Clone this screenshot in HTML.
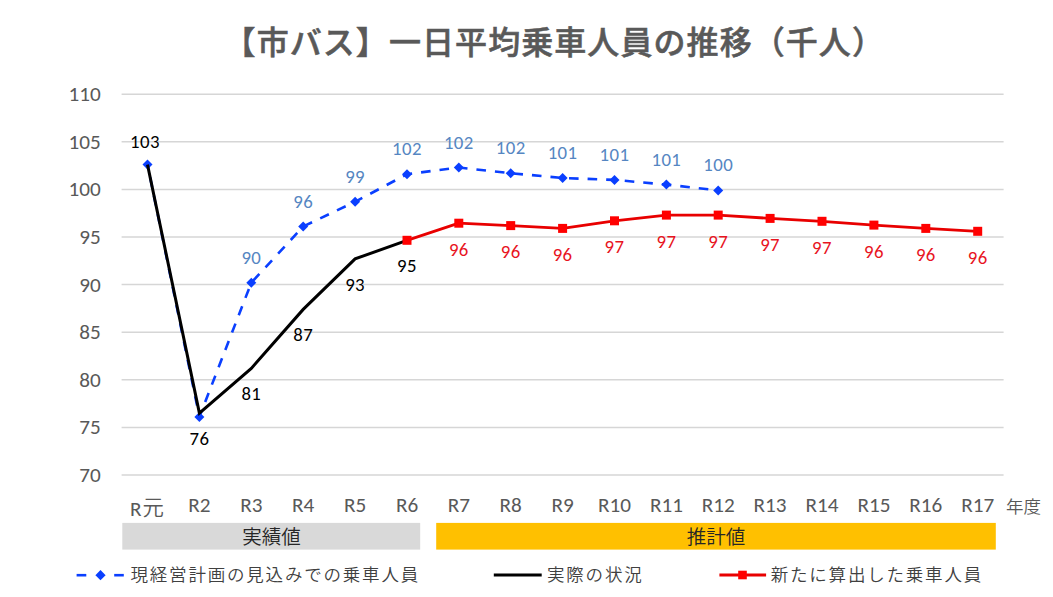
<!DOCTYPE html>
<html lang="ja"><head><meta charset="utf-8"><title>市バス 一日平均乗車人員の推移</title>
<style>
html,body{margin:0;padding:0;background:#fff;}
body{width:1053px;height:597px;overflow:hidden;}
svg{display:block;}
.ax{font-family:Carlito, 'Liberation Sans', 'Noto Sans CJK JP', sans-serif;font-size:21.2px;fill:#595959;}
.cj{font-family:'Liberation Sans', 'Noto Sans CJK JP', sans-serif;font-size:21.4px;font-weight:350;}
.axj{font-family:'Liberation Sans', 'Noto Sans CJK JP', sans-serif;font-size:17.5px;font-weight:350;fill:#595959;}
.dl{font-family:Carlito, 'Liberation Sans', 'Noto Sans CJK JP', sans-serif;font-size:18.8px;letter-spacing:0.4px;}
.bar{font-family:'Liberation Sans', 'Noto Sans CJK JP', sans-serif;font-size:19.5px;font-weight:350;fill:#262626;}
.lg{font-family:'Liberation Sans', 'Noto Sans CJK JP', sans-serif;font-size:17.5px;letter-spacing:1.8px;font-weight:350;fill:#404040;}
.ti{font-family:'Liberation Sans', 'Noto Sans CJK JP', sans-serif;font-size:32px;letter-spacing:1.07px;font-weight:500;fill:#595959;stroke:#595959;stroke-width:0.55px;}
</style></head>
<body><svg width="1053" height="597" viewBox="0 0 1053 597">
<rect width="1053" height="597" fill="#fff"/>
<line x1="121.6" y1="94.2" x2="1003.6" y2="94.2" stroke="#D6D6D6" stroke-width="1.5"/>
<line x1="121.6" y1="141.8" x2="1003.6" y2="141.8" stroke="#D6D6D6" stroke-width="1.5"/>
<line x1="121.6" y1="189.4" x2="1003.6" y2="189.4" stroke="#D6D6D6" stroke-width="1.5"/>
<line x1="121.6" y1="237.0" x2="1003.6" y2="237.0" stroke="#D6D6D6" stroke-width="1.5"/>
<line x1="121.6" y1="284.6" x2="1003.6" y2="284.6" stroke="#D6D6D6" stroke-width="1.5"/>
<line x1="121.6" y1="332.2" x2="1003.6" y2="332.2" stroke="#D6D6D6" stroke-width="1.5"/>
<line x1="121.6" y1="379.8" x2="1003.6" y2="379.8" stroke="#D6D6D6" stroke-width="1.5"/>
<line x1="121.6" y1="427.4" x2="1003.6" y2="427.4" stroke="#D6D6D6" stroke-width="1.5"/>
<line x1="121.6" y1="475.0" x2="1003.6" y2="475.0" stroke="#D6D6D6" stroke-width="1.5"/>
<text x="100.8" y="101.2" text-anchor="end" class="ax">110</text>
<text x="100.8" y="148.8" text-anchor="end" class="ax">105</text>
<text x="100.8" y="196.4" text-anchor="end" class="ax">100</text>
<text x="100.8" y="244.0" text-anchor="end" class="ax">95</text>
<text x="100.8" y="291.6" text-anchor="end" class="ax">90</text>
<text x="100.8" y="339.2" text-anchor="end" class="ax">85</text>
<text x="100.8" y="386.8" text-anchor="end" class="ax">80</text>
<text x="100.8" y="434.4" text-anchor="end" class="ax">75</text>
<text x="100.8" y="482.0" text-anchor="end" class="ax">70</text>
<text x="147.0" y="516" text-anchor="middle" class="ax">R<tspan class="cj" dx="1" dy="-0.8">元</tspan></text>
<text x="199.4" y="511.8" text-anchor="middle" class="ax">R2</text>
<text x="251.3" y="511.8" text-anchor="middle" class="ax">R3</text>
<text x="303.2" y="511.8" text-anchor="middle" class="ax">R4</text>
<text x="355.1" y="511.8" text-anchor="middle" class="ax">R5</text>
<text x="407.0" y="511.8" text-anchor="middle" class="ax">R6</text>
<text x="458.8" y="511.8" text-anchor="middle" class="ax">R7</text>
<text x="510.7" y="511.8" text-anchor="middle" class="ax">R8</text>
<text x="562.6" y="511.8" text-anchor="middle" class="ax">R9</text>
<text x="614.5" y="511.8" text-anchor="middle" class="ax">R10</text>
<text x="666.4" y="511.8" text-anchor="middle" class="ax">R11</text>
<text x="718.2" y="511.8" text-anchor="middle" class="ax">R12</text>
<text x="770.1" y="511.8" text-anchor="middle" class="ax">R13</text>
<text x="822.0" y="511.8" text-anchor="middle" class="ax">R14</text>
<text x="873.9" y="511.8" text-anchor="middle" class="ax">R15</text>
<text x="925.8" y="511.8" text-anchor="middle" class="ax">R16</text>
<text x="977.7" y="511.8" text-anchor="middle" class="ax">R17</text>
<text x="1006" y="513" class="axj">年度</text>
<rect x="122.3" y="522.9" width="297.9" height="26.7" fill="#D9D9D9"/>
<rect x="436.2" y="522.9" width="559.6" height="26.7" fill="#FFC000"/>
<text x="271.4" y="543.5" text-anchor="middle" class="bar">実績値</text>
<text x="716" y="543.5" text-anchor="middle" class="bar">推計値</text>
<polyline points="147.5,164.6 199.4,416.9 251.3,282.7 303.2,226.5 355.1,201.8 407.0,174.2 458.8,167.5 510.7,173.2 562.6,178.0 614.5,179.9 666.4,184.6 718.2,190.4" fill="none" stroke="#0A3FFF" stroke-width="2.6" stroke-dasharray="9.6 9.0" stroke-dashoffset="5.40" stroke-linejoin="round"/>
<path d="M147.5 159.6L152.5 164.6L147.5 169.6L142.5 164.6Z" fill="#0A3FFF"/>
<path d="M199.4 411.9L204.4 416.9L199.4 421.9L194.4 416.9Z" fill="#0A3FFF"/>
<path d="M251.3 277.7L256.3 282.7L251.3 287.7L246.3 282.7Z" fill="#0A3FFF"/>
<path d="M303.2 221.5L308.2 226.5L303.2 231.5L298.2 226.5Z" fill="#0A3FFF"/>
<path d="M355.1 196.8L360.1 201.8L355.1 206.8L350.1 201.8Z" fill="#0A3FFF"/>
<path d="M407.0 169.2L412.0 174.2L407.0 179.2L402.0 174.2Z" fill="#0A3FFF"/>
<path d="M458.8 162.5L463.8 167.5L458.8 172.5L453.8 167.5Z" fill="#0A3FFF"/>
<path d="M510.7 168.2L515.7 173.2L510.7 178.2L505.7 173.2Z" fill="#0A3FFF"/>
<path d="M562.6 173.0L567.6 178.0L562.6 183.0L557.6 178.0Z" fill="#0A3FFF"/>
<path d="M614.5 174.9L619.5 179.9L614.5 184.9L609.5 179.9Z" fill="#0A3FFF"/>
<path d="M666.4 179.6L671.4 184.6L666.4 189.6L661.4 184.6Z" fill="#0A3FFF"/>
<path d="M718.2 185.4L723.2 190.4L718.2 195.4L713.2 190.4Z" fill="#0A3FFF"/>
<polyline points="147.5,164.6 199.4,413.1 251.3,368.4 303.2,309.4 355.1,258.9 407.0,240.3" fill="none" stroke="#000" stroke-width="3" stroke-linejoin="miter"/>
<polyline points="407.0,240.3 458.8,223.2 510.7,225.6 562.6,228.4 614.5,220.8 666.4,215.1 718.2,215.1 770.1,218.4 822.0,221.3 873.9,225.1 925.8,228.4 977.7,231.3" fill="none" stroke="#E80000" stroke-width="2.8" stroke-linejoin="round"/>
<rect x="402.5" y="235.8" width="9" height="9" fill="#FF0000"/>
<rect x="454.3" y="218.7" width="9" height="9" fill="#FF0000"/>
<rect x="506.2" y="221.1" width="9" height="9" fill="#FF0000"/>
<rect x="558.1" y="223.9" width="9" height="9" fill="#FF0000"/>
<rect x="610.0" y="216.3" width="9" height="9" fill="#FF0000"/>
<rect x="661.9" y="210.6" width="9" height="9" fill="#FF0000"/>
<rect x="713.7" y="210.6" width="9" height="9" fill="#FF0000"/>
<rect x="765.6" y="213.9" width="9" height="9" fill="#FF0000"/>
<rect x="817.5" y="216.8" width="9" height="9" fill="#FF0000"/>
<rect x="869.4" y="220.6" width="9" height="9" fill="#FF0000"/>
<rect x="921.3" y="223.9" width="9" height="9" fill="#FF0000"/>
<rect x="973.2" y="226.8" width="9" height="9" fill="#FF0000"/>
<text x="251.3" y="263.7" text-anchor="middle" class="dl" fill="#5586C2">90</text>
<text x="303.2" y="207.5" text-anchor="middle" class="dl" fill="#5586C2">96</text>
<text x="355.1" y="182.8" text-anchor="middle" class="dl" fill="#5586C2">99</text>
<text x="407.0" y="155.2" text-anchor="middle" class="dl" fill="#5586C2">102</text>
<text x="458.8" y="148.5" text-anchor="middle" class="dl" fill="#5586C2">102</text>
<text x="510.7" y="154.2" text-anchor="middle" class="dl" fill="#5586C2">102</text>
<text x="562.6" y="159.0" text-anchor="middle" class="dl" fill="#5586C2">101</text>
<text x="614.5" y="160.9" text-anchor="middle" class="dl" fill="#5586C2">101</text>
<text x="666.4" y="165.6" text-anchor="middle" class="dl" fill="#5586C2">101</text>
<text x="718.2" y="171.4" text-anchor="middle" class="dl" fill="#5586C2">100</text>
<text x="199.4" y="444.9" text-anchor="middle" class="dl" fill="#000">76</text>
<text x="251.3" y="400.2" text-anchor="middle" class="dl" fill="#000">81</text>
<text x="303.2" y="341.2" text-anchor="middle" class="dl" fill="#000">87</text>
<text x="355.1" y="290.7" text-anchor="middle" class="dl" fill="#000">93</text>
<text x="407.0" y="272.1" text-anchor="middle" class="dl" fill="#000">95</text>
<text x="145" y="147.8" text-anchor="middle" class="dl" fill="#000">103</text>
<text x="458.8" y="255.6" text-anchor="middle" class="dl" fill="#E8141E">96</text>
<text x="510.7" y="258.0" text-anchor="middle" class="dl" fill="#E8141E">96</text>
<text x="562.6" y="260.8" text-anchor="middle" class="dl" fill="#E8141E">96</text>
<text x="614.5" y="253.2" text-anchor="middle" class="dl" fill="#E8141E">97</text>
<text x="666.4" y="247.5" text-anchor="middle" class="dl" fill="#E8141E">97</text>
<text x="718.2" y="247.5" text-anchor="middle" class="dl" fill="#E8141E">97</text>
<text x="770.1" y="250.8" text-anchor="middle" class="dl" fill="#E8141E">97</text>
<text x="822.0" y="253.7" text-anchor="middle" class="dl" fill="#E8141E">97</text>
<text x="873.9" y="257.5" text-anchor="middle" class="dl" fill="#E8141E">96</text>
<text x="925.8" y="260.8" text-anchor="middle" class="dl" fill="#E8141E">96</text>
<text x="977.7" y="263.7" text-anchor="middle" class="dl" fill="#E8141E">96</text>
<line x1="76.6" y1="575.2" x2="86.3" y2="575.2" stroke="#0A3FFF" stroke-width="2.6"/>
<line x1="114.2" y1="575.2" x2="123.8" y2="575.2" stroke="#0A3FFF" stroke-width="2.6"/>
<path d="M100.5 570.1L105.6 575.2L100.5 580.3L95.4 575.2Z" fill="#0A3FFF"/>
<text x="130.5" y="580.8" class="lg">現経営計画の見込みでの乗車人員</text>
<line x1="493.8" y1="575" x2="541.7" y2="575" stroke="#000" stroke-width="3"/>
<text x="547" y="580.8" class="lg">実際の状況</text>
<line x1="719.4" y1="575" x2="766.1" y2="575" stroke="#E80000" stroke-width="2.8"/>
<rect x="738.2" y="570.7" width="8.6" height="8.6" fill="#FF0000"/>
<text x="770.7" y="580.8" class="lg">新たに算出した乗車人員</text>
<text x="223.6" y="54" class="ti">【市バス】一日平均乗車人員の推移（千人）</text>
</svg></body></html>
